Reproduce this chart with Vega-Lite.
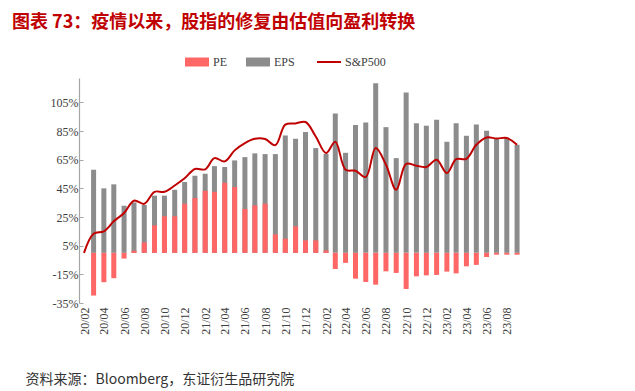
{
  "$schema": "https://vega.github.io/schema/vega-lite/v6.json",
  "width": 453,
  "height": 225,
  "autosize": "none",
  "padding": {"left": 79, "top": 78, "right": 103, "bottom": 88},
  "background": "white",
  "config": {"view": {"stroke": null}, "axis": {"labelOverlap": false}},
  "title": {
    "text": "图表 73：疫情以来，股指的修复由估值向盈利转换",
    "anchor": "start",
    "frame": "group",
    "dx": -67,
    "offset": 24,
    "font": "Noto Sans CJK SC",
    "fontSize": 18,
    "fontWeight": "bold",
    "color": "#C00000"
  },
  "datasets": {
    "bars": [
      {"date": "2020/03/01", "series": "EPS", "value": 58.0},
      {"date": "2020/04/01", "series": "EPS", "value": 45.0},
      {"date": "2020/05/01", "series": "EPS", "value": 47.8},
      {"date": "2020/06/01", "series": "EPS", "value": 32.9},
      {"date": "2020/07/01", "series": "EPS", "value": 35.2},
      {"date": "2020/08/01", "series": "EPS", "value": 33.4},
      {"date": "2020/09/01", "series": "EPS", "value": 39.9},
      {"date": "2020/10/01", "series": "EPS", "value": 39.9},
      {"date": "2020/11/01", "series": "EPS", "value": 44.0},
      {"date": "2020/12/01", "series": "EPS", "value": 49.4},
      {"date": "2021/01/01", "series": "EPS", "value": 53.8},
      {"date": "2021/02/01", "series": "EPS", "value": 55.2},
      {"date": "2021/03/01", "series": "EPS", "value": 60.5},
      {"date": "2021/04/01", "series": "EPS", "value": 59.9},
      {"date": "2021/05/01", "series": "EPS", "value": 64.5},
      {"date": "2021/06/01", "series": "EPS", "value": 66.8},
      {"date": "2021/07/01", "series": "EPS", "value": 69.4},
      {"date": "2021/08/01", "series": "EPS", "value": 68.9},
      {"date": "2021/09/01", "series": "EPS", "value": 68.9},
      {"date": "2021/10/01", "series": "EPS", "value": 81.9},
      {"date": "2021/11/01", "series": "EPS", "value": 79.6},
      {"date": "2021/12/01", "series": "EPS", "value": 84.3},
      {"date": "2022/01/01", "series": "EPS", "value": 73.1},
      {"date": "2022/02/01", "series": "EPS", "value": 69.0},
      {"date": "2022/03/01", "series": "EPS", "value": 97.3},
      {"date": "2022/04/01", "series": "EPS", "value": 69.8},
      {"date": "2022/05/01", "series": "EPS", "value": 89.2},
      {"date": "2022/06/01", "series": "EPS", "value": 90.9},
      {"date": "2022/07/01", "series": "EPS", "value": 118.4},
      {"date": "2022/08/01", "series": "EPS", "value": 87.7},
      {"date": "2022/09/01", "series": "EPS", "value": 66.1},
      {"date": "2022/10/01", "series": "EPS", "value": 111.9},
      {"date": "2022/11/01", "series": "EPS", "value": 90.5},
      {"date": "2022/12/01", "series": "EPS", "value": 88.7},
      {"date": "2023/01/01", "series": "EPS", "value": 92.8},
      {"date": "2023/02/01", "series": "EPS", "value": 77.5},
      {"date": "2023/03/01", "series": "EPS", "value": 90.5},
      {"date": "2023/04/01", "series": "EPS", "value": 81.7},
      {"date": "2023/05/01", "series": "EPS", "value": 89.6},
      {"date": "2023/06/01", "series": "EPS", "value": 85.2},
      {"date": "2023/07/01", "series": "EPS", "value": 80.1},
      {"date": "2023/08/01", "series": "EPS", "value": 80.1},
      {"date": "2023/09/01", "series": "EPS", "value": 75.4},
      {"date": "2020/03/01", "series": "PE", "value": -29.8},
      {"date": "2020/04/01", "series": "PE", "value": -20.5},
      {"date": "2020/05/01", "series": "PE", "value": -17.7},
      {"date": "2020/06/01", "series": "PE", "value": -4.0},
      {"date": "2020/07/01", "series": "PE", "value": 1.5},
      {"date": "2020/08/01", "series": "PE", "value": 7.3},
      {"date": "2020/09/01", "series": "PE", "value": 19.2},
      {"date": "2020/10/01", "series": "PE", "value": 25.5},
      {"date": "2020/11/01", "series": "PE", "value": 25.5},
      {"date": "2020/12/01", "series": "PE", "value": 34.3},
      {"date": "2021/01/01", "series": "PE", "value": 38.2},
      {"date": "2021/02/01", "series": "PE", "value": 43.3},
      {"date": "2021/03/01", "series": "PE", "value": 42.6},
      {"date": "2021/04/01", "series": "PE", "value": 48.9},
      {"date": "2021/05/01", "series": "PE", "value": 45.9},
      {"date": "2021/06/01", "series": "PE", "value": 30.6},
      {"date": "2021/07/01", "series": "PE", "value": 33.1},
      {"date": "2021/08/01", "series": "PE", "value": 34.3},
      {"date": "2021/09/01", "series": "PE", "value": 12.9},
      {"date": "2021/10/01", "series": "PE", "value": 9.9},
      {"date": "2021/11/01", "series": "PE", "value": 18.5},
      {"date": "2021/12/01", "series": "PE", "value": 8.7},
      {"date": "2022/01/01", "series": "PE", "value": 8.7},
      {"date": "2022/02/01", "series": "PE", "value": 1.7},
      {"date": "2022/03/01", "series": "PE", "value": -11.2},
      {"date": "2022/04/01", "series": "PE", "value": -7.0},
      {"date": "2022/05/01", "series": "PE", "value": -18.0},
      {"date": "2022/06/01", "series": "PE", "value": -20.3},
      {"date": "2022/07/01", "series": "PE", "value": -22.2},
      {"date": "2022/08/01", "series": "PE", "value": -12.9},
      {"date": "2022/09/01", "series": "PE", "value": -14.0},
      {"date": "2022/10/01", "series": "PE", "value": -25.2},
      {"date": "2022/11/01", "series": "PE", "value": -16.4},
      {"date": "2022/12/01", "series": "PE", "value": -15.7},
      {"date": "2023/01/01", "series": "PE", "value": -15.4},
      {"date": "2023/02/01", "series": "PE", "value": -13.1},
      {"date": "2023/03/01", "series": "PE", "value": -14.3},
      {"date": "2023/04/01", "series": "PE", "value": -9.4},
      {"date": "2023/05/01", "series": "PE", "value": -8.4},
      {"date": "2023/06/01", "series": "PE", "value": -2.9},
      {"date": "2023/07/01", "series": "PE", "value": -1.3},
      {"date": "2023/08/01", "series": "PE", "value": -1.3},
      {"date": "2023/09/01", "series": "PE", "value": -1.3}
    ],
    "index": [
      {"date": "2020/02/01", "sp": 0},
      {"date": "2020/03/01", "sp": 13.3},
      {"date": "2020/04/01", "sp": 15.0},
      {"date": "2020/05/01", "sp": 22.0},
      {"date": "2020/06/01", "sp": 27.8},
      {"date": "2020/07/01", "sp": 36.4},
      {"date": "2020/08/01", "sp": 34.2},
      {"date": "2020/09/01", "sp": 42.6},
      {"date": "2020/10/01", "sp": 42.6},
      {"date": "2020/11/01", "sp": 47.0},
      {"date": "2020/12/01", "sp": 52.0},
      {"date": "2021/01/01", "sp": 58.5},
      {"date": "2021/02/01", "sp": 58.3},
      {"date": "2021/03/01", "sp": 66.1},
      {"date": "2021/04/01", "sp": 63.8},
      {"date": "2021/05/01", "sp": 71.5},
      {"date": "2021/06/01", "sp": 76.6},
      {"date": "2021/07/01", "sp": 79.6},
      {"date": "2021/08/01", "sp": 79.4},
      {"date": "2021/09/01", "sp": 75.2},
      {"date": "2021/10/01", "sp": 89.5},
      {"date": "2021/11/01", "sp": 90.3},
      {"date": "2021/12/01", "sp": 91.3},
      {"date": "2022/01/01", "sp": 81.2},
      {"date": "2022/02/01", "sp": 69.6},
      {"date": "2022/03/01", "sp": 77.5},
      {"date": "2022/04/01", "sp": 58.0},
      {"date": "2022/05/01", "sp": 57.3},
      {"date": "2022/06/01", "sp": 52.9},
      {"date": "2022/07/01", "sp": 73.1},
      {"date": "2022/08/01", "sp": 61.5},
      {"date": "2022/09/01", "sp": 44.0},
      {"date": "2022/10/01", "sp": 62.0},
      {"date": "2022/11/01", "sp": 60.8},
      {"date": "2022/12/01", "sp": 59.9},
      {"date": "2023/01/01", "sp": 65.0},
      {"date": "2023/02/01", "sp": 55.7},
      {"date": "2023/03/01", "sp": 65.4},
      {"date": "2023/04/01", "sp": 65.6},
      {"date": "2023/05/01", "sp": 75.4},
      {"date": "2023/06/01", "sp": 80.5},
      {"date": "2023/07/01", "sp": 79.8},
      {"date": "2023/08/01", "sp": 80.1},
      {"date": "2023/09/01", "sp": 75.4}
    ]
  },
  "encoding": {
    "x": {
      "field": "date",
      "type": "temporal",
      "scale": {
        "domain": [{"year": 2020, "month": 2, "date": 1}, {"year": 2023, "month": 10, "date": 1}]
      },
      "axis": {
        "title": "资料来源：Bloomberg，东证衍生品研究院",
        "titleFont": "Noto Sans CJK SC",
        "titleFontSize": 14,
        "titleFontWeight": "normal",
        "titleColor": "#333333",
        "titleAnchor": "start",
        "titleAlign": "left",
        "titleBaseline": "alphabetic",
        "titleX": -54,
        "titleY": 80,
        "format": "%y/%m",
        "values": [
          {"year": 2020, "month": 2, "date": 1}, {"year": 2020, "month": 4, "date": 1},
          {"year": 2020, "month": 6, "date": 1}, {"year": 2020, "month": 8, "date": 1},
          {"year": 2020, "month": 10, "date": 1}, {"year": 2020, "month": 12, "date": 1},
          {"year": 2021, "month": 2, "date": 1}, {"year": 2021, "month": 4, "date": 1},
          {"year": 2021, "month": 6, "date": 1}, {"year": 2021, "month": 8, "date": 1},
          {"year": 2021, "month": 10, "date": 1}, {"year": 2021, "month": 12, "date": 1},
          {"year": 2022, "month": 2, "date": 1}, {"year": 2022, "month": 4, "date": 1},
          {"year": 2022, "month": 6, "date": 1}, {"year": 2022, "month": 8, "date": 1},
          {"year": 2022, "month": 10, "date": 1}, {"year": 2022, "month": 12, "date": 1},
          {"year": 2023, "month": 2, "date": 1}, {"year": 2023, "month": 4, "date": 1},
          {"year": 2023, "month": 6, "date": 1}, {"year": 2023, "month": 8, "date": 1}
        ],
        "labelAngle": 270,
        "labelFont": "Liberation Serif",
        "labelFontSize": 12,
        "labelColor": "#404040",
        "labelPadding": 4,
        "labelFlush": false,
        "domain": false,
        "ticks": false,
        "grid": false
      }
    },
    "y": {
      "type": "quantitative",
      "scale": {"domain": [-35, 122], "nice": false, "zero": false},
      "axis": {
        "title": null,
        "values": [-35, -15, 5, 25, 45, 65, 85, 105],
        "labelExpr": "datum.value + '%'",
        "labelFont": "Liberation Serif",
        "labelFontSize": 12,
        "labelColor": "#404040",
        "labelPadding": 5,
        "labelFlush": false,
        "domainColor": "#A6A6A6",
        "domainWidth": 1.2,
        "tickColor": "#A6A6A6",
        "tickSize": -4,
        "grid": false
      }
    }
  },
  "layer": [
    {
      "data": {"name": "bars"},
      "mark": {"type": "bar", "width": 5},
      "encoding": {
        "y": {"field": "value", "type": "quantitative", "stack": null},
        "color": {
          "field": "series",
          "type": "nominal",
          "scale": {"domain": ["PE", "EPS", "S&P500"], "range": ["#FF6666", "#8C8C8C", "#C00000"]},
          "legend": {
            "title": null,
            "orient": "none",
            "direction": "horizontal",
            "legendX": 112,
            "legendY": -22,
            "labelFont": "Liberation Serif",
            "labelFontSize": 12,
            "labelColor": "#404040",
            "symbolSize": 576,
            "labelOffset": 10,
            "columnPadding": 18,
            "encode": {
              "symbols": {
                "update": {
                  "shape": {"signal": "datum.value === 'S&P500' ? 'stroke' : 'M-1,-0.375H1V0.375H-1Z'"},
                  "fill": {"scale": "color", "field": "value"},
                  "stroke": {"scale": "color", "field": "value"},
                  "strokeWidth": {"signal": "datum.value === 'S&P500' ? 2 : 0"},
                  "opacity": {"value": 1}
                }
              }
            }
          }
        },
        "order": {"field": "series", "sort": "ascending"}
      }
    },
    {
      "data": {"values": [{"zero": 0}]},
      "mark": {"type": "rule", "color": "#A6A6A6", "strokeWidth": 1.5},
      "encoding": {"y": {"field": "zero", "type": "quantitative"}}
    },
    {
      "data": {"name": "index"},
      "mark": {"type": "line", "interpolate": "catmull-rom", "strokeWidth": 2},
      "encoding": {
        "y": {"field": "sp", "type": "quantitative"},
        "color": {"datum": "S&P500"}
      }
    }
  ]
}
